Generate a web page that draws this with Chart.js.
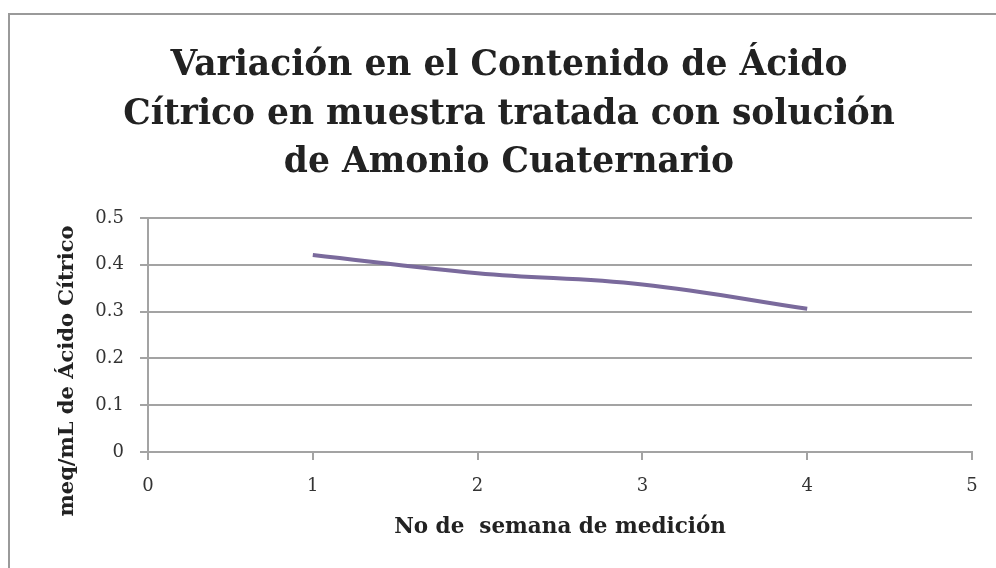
<!DOCTYPE html>
<html lang="es">

<head>
    <meta charset="UTF-8">
    <title>Ácido Cítrico</title>
    <script src="https://cdn.jsdelivr.net/npm/chart.js"></script>
    <style>
        html, body { margin: 0; padding: 0; background: #fff; }
        .chart-container { position: relative; width: 996px; height: 568px; }
    </style>
</head>

<body>
    <div class="chart-container">
        <canvas id="myChart" width="996" height="568"></canvas>
    </div>
    <script>
        // datos
        const semanas = [1, 2, 3, 4];
        const acidoCitrico = [0.421, 0.382, 0.358, 0.306];
        const tituloLineas = [
            'Variación en el Contenido de Ácido',
            'Cítrico en muestra tratada con solución',
            'de Amonio Cuaternario'
        ];
        const tituloX = 'No de  semana de medición';
        const tituloY = 'meq/mL de Ácido Cítrico';

        const serif = "'DejaVu Serif', 'Liberation Serif', serif";
        const gris = '#a3a3a3';

        // marco gris exterior + titulo del eje Y (centrado como en Excel, no sobre el eje)
        const marco = {
            id: 'marco',
            beforeDraw(chart) {
                const c = chart.ctx;
                c.save();
                c.fillStyle = '#fff';
                c.fillRect(0, 0, chart.width, chart.height);
                c.strokeStyle = '#9a9a9a';
                c.lineWidth = 2;
                c.strokeRect(9, 14, 1200, 1000);
                c.restore();
            },
            afterDraw(chart) {
                const c = chart.ctx;
                c.save();
                c.translate(68, 371);
                c.rotate(-Math.PI / 2);
                c.fillStyle = '#222';
                c.font = 'bold 21px ' + serif;
                c.textAlign = 'center';
                c.textBaseline = 'middle';
                c.fillText(tituloY, 0, 0);
                c.restore();
            }
        };

        const ctx = document.getElementById('myChart').getContext('2d');
        new Chart(ctx, {
            type: 'line',
            plugins: [marco],
            data: {
                datasets: [{
                    data: semanas.map((s, i) => ({ x: s, y: acidoCitrico[i] })),
                    borderColor: '#7a6a9c',
                    borderWidth: 4,
                    pointRadius: 0,
                    tension: 0.4,
                    fill: false
                }]
            },
            options: {
                responsive: false,
                animation: false,
                layout: { padding: { left: 46, right: 24, top: 0, bottom: 28 } },
                plugins: {
                    legend: { display: false },
                    tooltip: { enabled: false },
                    title: {
                        display: true,
                        text: tituloLineas,
                        color: '#222',
                        font: { family: serif, size: 34.5, weight: 'bold', lineHeight: 1.406 },
                        padding: { top: 42, bottom: 30.5 }
                    }
                },
                scales: {
                    x: {
                        type: 'linear',
                        min: 0,
                        max: 5,
                        afterFit: (s) => { s.height = 88; },
                        ticks: { stepSize: 1, color: '#333', font: { family: serif, size: 18 }, padding: 16 },
                        grid: { drawOnChartArea: false, drawTicks: true, tickLength: 8, color: gris, lineWidth: 2 },
                        border: { color: gris, width: 2 },
                        title: { display: true, text: tituloX, color: '#222', font: { family: serif, size: 21.5, weight: 'bold' }, padding: { top: 0, bottom: 0 } }
                    },
                    y: {
                        min: 0,
                        max: 0.5,
                        afterFit: (s) => { s.width = 102; },
                        ticks: { stepSize: 0.1, color: '#333', font: { family: serif, size: 18 }, padding: 16 },
                        grid: { color: gris, lineWidth: 2, tickLength: 8 },
                        border: { color: gris, width: 2 }
                    }
                }
            }
        });
    </script>
</body>

</html>
